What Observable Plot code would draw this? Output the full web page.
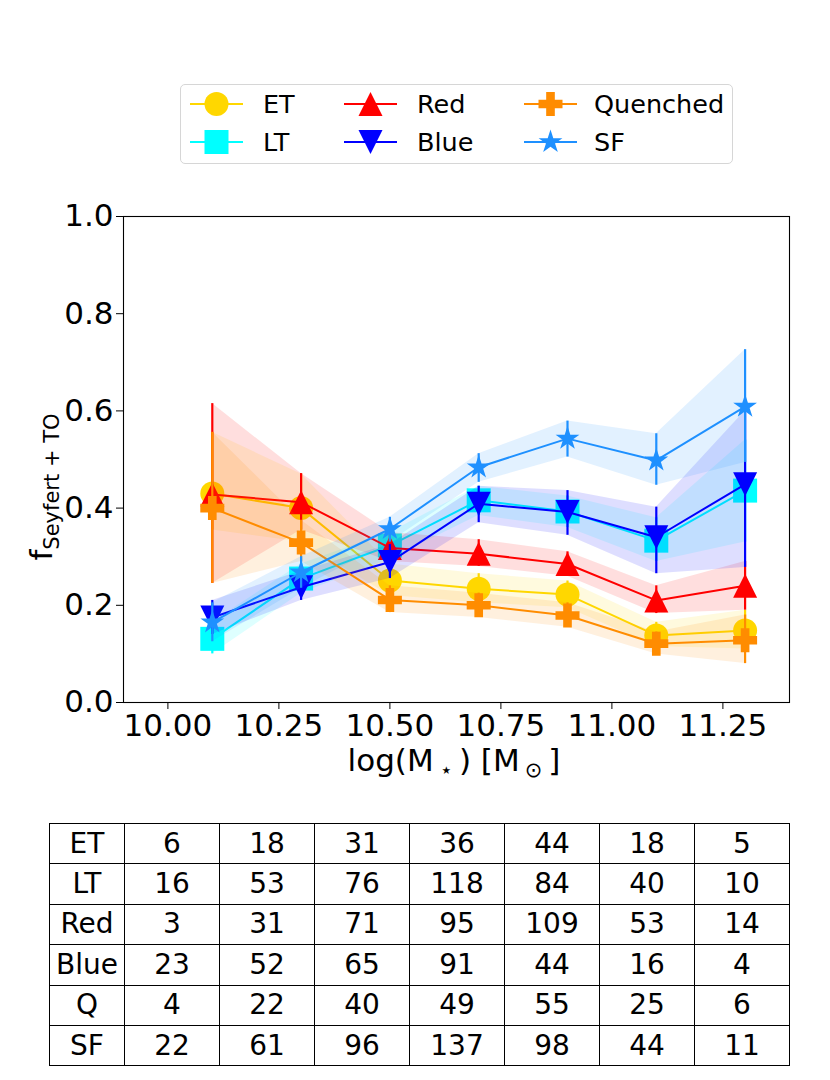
<!DOCTYPE html>
<html><head><meta charset="utf-8">
<script src="https://cdn.jsdelivr.net/npm/d3@7"></script>
<script src="https://cdn.jsdelivr.net/npm/@observablehq/plot@0.6"></script>
<style>
body{margin:0;background:#fff;font-family:"DejaVu Sans",sans-serif;}
#wrap{position:relative;width:830px;height:1080px;overflow:hidden;}
#chart{position:absolute;left:0;top:0;}
#legend{position:absolute;left:180px;top:84px;width:553px;height:80px;border:1px solid #d6d6d6;border-radius:5px;box-sizing:border-box;background:#fff;}
.li{position:absolute;height:34px;}
.li svg{position:absolute;left:0;top:0;}
.li span{position:absolute;top:0;line-height:34px;font-size:25.5px;color:#000;white-space:nowrap;}
#tbl{position:absolute;left:49px;top:823px;border-collapse:collapse;}
#tbl td{border:1px solid #000;text-align:center;font-size:28px;height:39.4px;padding:0;color:#000;line-height:1;}
</style></head>
<body><div id="wrap"><div id="chart"></div><div id="legend"></div><table id="tbl"></table></div>
<script>
// ---- data ----
const masses = [10.1, 10.3, 10.5, 10.7, 10.9, 11.1, 11.3];
const xTicks = [10.0, 10.25, 10.5, 10.75, 11.0, 11.25];
const yTicks = [0, 0.2, 0.4, 0.6, 0.8, 1.0];

const etFrac = [0.430, 0.400, 0.251, 0.234, 0.222, 0.138, 0.148];
const etLow  = [0.355, 0.330, 0.220, 0.205, 0.195, 0.115, 0.110];
const etHigh = [0.556, 0.470, 0.285, 0.265, 0.250, 0.165, 0.190];

const ltFrac = [0.131, 0.255, 0.323, 0.416, 0.393, 0.333, 0.436];
const ltLow  = [0.100, 0.225, 0.295, 0.385, 0.360, 0.290, 0.330];
const ltHigh = [0.165, 0.285, 0.350, 0.445, 0.425, 0.380, 0.540];

const redFrac = [0.428, 0.412, 0.318, 0.306, 0.285, 0.210, 0.240];
const redLow  = [0.245, 0.355, 0.290, 0.280, 0.260, 0.183, 0.190];
const redHigh = [0.615, 0.471, 0.350, 0.335, 0.310, 0.240, 0.290];

const blueFrac = [0.175, 0.237, 0.289, 0.409, 0.392, 0.340, 0.449];
const blueLow  = [0.140, 0.210, 0.255, 0.370, 0.344, 0.265, 0.278];
const blueHigh = [0.210, 0.270, 0.325, 0.445, 0.436, 0.402, 0.600];

const qFrac = [0.400, 0.329, 0.211, 0.200, 0.179, 0.121, 0.128];
const qLow  = [0.245, 0.290, 0.185, 0.175, 0.155, 0.100, 0.080];
const qHigh = [0.556, 0.375, 0.240, 0.225, 0.205, 0.145, 0.180];

const sfFrac = [0.165, 0.268, 0.357, 0.484, 0.543, 0.498, 0.609];
const sfLow  = [0.125, 0.235, 0.330, 0.453, 0.505, 0.447, 0.494];
const sfHigh = [0.205, 0.300, 0.381, 0.512, 0.579, 0.553, 0.726];

const tableLabels = ["ET", "LT", "Red", "Blue", "Q", "SF"];
const countsET   = [6, 18, 31, 36, 44, 18, 5];
const countsLT   = [16, 53, 76, 118, 84, 40, 10];
const countsRed  = [3, 31, 71, 95, 109, 53, 14];
const countsBlue = [23, 52, 65, 91, 44, 16, 4];
const countsQ    = [4, 22, 40, 49, 55, 25, 6];
const countsSF   = [22, 61, 96, 137, 98, 44, 11];

// ---- symbols (half-width = r) ----
const H = s => Math.sqrt(s / Math.PI);
const circSym = {draw(c, s){const h = H(s); c.moveTo(h, 0); c.arc(0, 0, h, 0, 2 * Math.PI);}};
const sqSym = {draw(c, s){const h = H(s); c.rect(-h, -h, 2 * h, 2 * h);}};
const triUp = {draw(c, s){const h = H(s); c.moveTo(0, -h); c.lineTo(h, h); c.lineTo(-h, h); c.closePath();}};
const triDown = {draw(c, s){const h = H(s); c.moveTo(0, h); c.lineTo(h, -h); c.lineTo(-h, -h); c.closePath();}};
const plusSym = {draw(c, s){const h = H(s), t = h * 0.36;
  const pts = [[-t,-h],[t,-h],[t,-t],[h,-t],[h,t],[t,t],[t,h],[-t,h],[-t,t],[-h,t],[-h,-t],[-t,-t]];
  c.moveTo(...pts[0]); for (let i = 1; i < pts.length; i++) c.lineTo(...pts[i]); c.closePath();}};
const starSym = {draw(c, s){const R = H(s), ri = R * 0.381966;
  for (let i = 0; i < 10; i++){const a = -Math.PI / 2 + i * Math.PI / 5, rr = i % 2 ? ri : R;
    const px = rr * Math.cos(a), py = rr * Math.sin(a); if (i === 0) c.moveTo(px, py); else c.lineTo(px, py);} c.closePath();}};

const series = [
  {name: "ET", color: "#FFD700", sym: circSym, r: 12, val: etFrac, lo: etLow, hi: etHigh},
  {name: "LT", color: "#00FFFF", sym: sqSym, r: 12, val: ltFrac, lo: ltLow, hi: ltHigh},
  {name: "Red", color: "#FF0000", sym: triUp, r: 12, val: redFrac, lo: redLow, hi: redHigh},
  {name: "Blue", color: "#0000FF", sym: triDown, r: 12, val: blueFrac, lo: blueLow, hi: blueHigh},
  {name: "Quenched", color: "#FF8C00", sym: plusSym, r: 12, val: qFrac, lo: qLow, hi: qHigh},
  {name: "SF", color: "#1E90FF", sym: starSym, r: 12.5, val: sfFrac, lo: sfLow, hi: sfHigh}
];

const marks = [];
for (const s of series) {
  const rows = masses.map((m, i) => ({x: m, y: s.val[i], lo: s.lo[i], hi: s.hi[i]}));
  marks.push(Plot.areaY(rows, {x: "x", y1: "lo", y2: "hi", fill: s.color, fillOpacity: 0.13}));
  marks.push(Plot.ruleX(rows, {x: "x", y1: "lo", y2: "hi", stroke: s.color, strokeWidth: 2.2}));
  marks.push(Plot.line(rows, {x: "x", y: "y", stroke: s.color, strokeWidth: 2}));
  marks.push(Plot.dot(rows, {x: "x", y: "y", fill: s.color, stroke: "none", symbol: s.sym, r: s.r}));
}

const chart = Plot.plot({
  width: 830, height: 800,
  marginTop: 216, marginBottom: 98, marginLeft: 123, marginRight: 41,
  x: {domain: [9.9, 11.4]},
  y: {domain: [0, 1]},
  style: {fontFamily: "DejaVu Sans", fontSize: "31px", color: "black", background: "white"},
  marks: [
    ...marks,
    Plot.frame({stroke: "black", strokeWidth: 1.1}),
    Plot.axisX({ticks: xTicks, tickFormat: d3.format(".2f"), tickSize: 7, tickPadding: 4, fontSize: 31, label: null}),
    Plot.axisY({ticks: yTicks, tickFormat: d3.format(".1f"), tickSize: 7, tickPadding: 3, fontSize: 31, label: null})
  ]
});
document.getElementById("chart").appendChild(chart);

// axis titles with subscripts
const svg = d3.select(chart);
const xl = svg.append("text").attr("x", 454).attr("y", 771).attr("text-anchor", "middle")
  .attr("font-size", 31).attr("fill", "black").attr("font-family", "DejaVu Sans");
xl.append("tspan").text("log(M");
xl.append("tspan").attr("font-size", 21).attr("dy", 6).attr("dx", 6).text("⋆");
xl.append("tspan").attr("dy", -6).attr("dx", 6).text(") [M");
xl.append("tspan").attr("font-size", 21).attr("dy", 6).attr("dx", 5).text("⊙");
xl.append("tspan").attr("dy", -6).attr("dx", 6).text("]");

const yl = svg.append("text").attr("transform", "translate(52,487) rotate(-90)").attr("text-anchor", "middle")
  .attr("font-size", 31).attr("fill", "black").attr("font-family", "DejaVu Sans");
yl.append("tspan").text("f");
yl.append("tspan").attr("font-size", 21).attr("dy", 7).text("Seyfert + TO");

// legend
const legendPos = [
  {x: 9, y: 2, tx: 82}, {x: 9, y: 40, tx: 82},
  {x: 163, y: 2, tx: 236}, {x: 163, y: 40, tx: 236},
  {x: 343, y: 2, tx: 413}, {x: 343, y: 40, tx: 413}
];
const leg = d3.select("#legend");
series.forEach((s, i) => {
  const p = legendPos[i];
  const it = leg.append("div").attr("class", "li").style("left", p.x + "px").style("top", p.y + "px").style("width", "230px");
  const sv = it.append("svg").attr("width", 60).attr("height", 34);
  sv.append("line").attr("x1", 0).attr("x2", 53).attr("y1", 17).attr("y2", 17).attr("stroke", s.color).attr("stroke-width", 2);
  sv.append("path").attr("transform", "translate(26.5,17)")
    .attr("d", d3.symbol(s.sym, Math.PI * s.r * s.r)()).attr("fill", s.color);
  it.append("span").style("left", (p.tx - p.x) + "px").text(s.name);
});

// table
const counts = [countsET, countsLT, countsRed, countsBlue, countsQ, countsSF];
const tbl = d3.select("#tbl");
tableLabels.forEach((lab, i) => {
  const tr = tbl.append("tr");
  tr.append("td").style("width", "74px").text(lab);
  counts[i].forEach(v => tr.append("td").style("width", "94px").text(v));
});
</script></body></html>
